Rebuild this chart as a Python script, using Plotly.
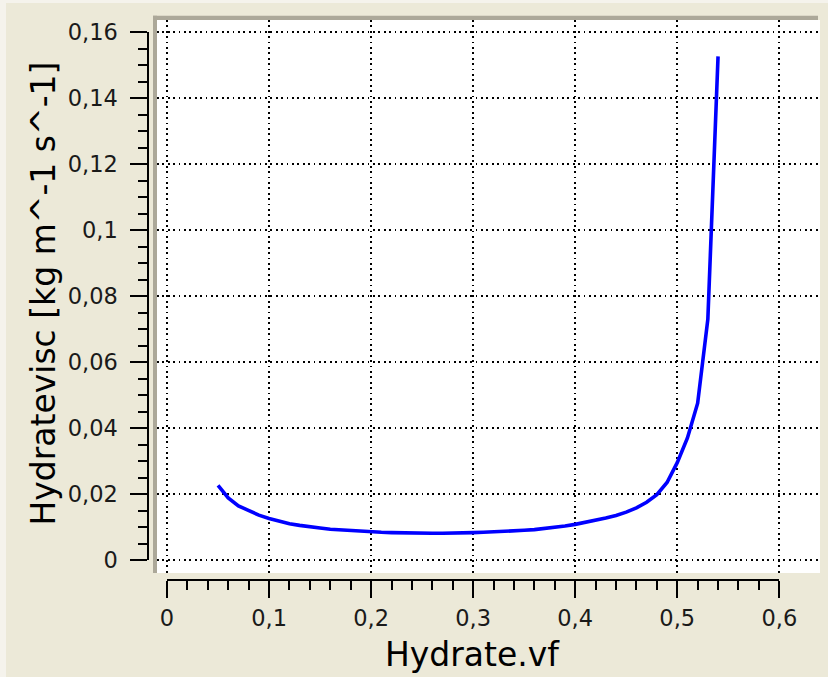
import plotly.graph_objects as go

# Data
hydrate_vf = [0.05, 0.06, 0.07, 0.08, 0.09, 0.10, 0.11, 0.12, 0.13, 0.14,
              0.15, 0.16, 0.17, 0.18, 0.19, 0.20, 0.21, 0.22, 0.23, 0.24,
              0.25, 0.26, 0.27, 0.28, 0.29, 0.30, 0.31, 0.32, 0.33, 0.34,
              0.35, 0.36, 0.37, 0.38, 0.39, 0.40, 0.41, 0.42, 0.43, 0.44,
              0.45, 0.46, 0.47, 0.48, 0.49, 0.50, 0.51, 0.52, 0.53, 0.54]
hydrate_visc = [0.0226, 0.0188, 0.0164, 0.0149, 0.0136, 0.0126, 0.0117, 0.0110, 0.0105, 0.0100,
                0.0097, 0.0093, 0.0091, 0.0088, 0.0086, 0.0085, 0.0084, 0.0083, 0.0082, 0.0081,
                0.0081, 0.0081, 0.0081, 0.0081, 0.0082, 0.0083, 0.0084, 0.0085, 0.0086, 0.0088,
                0.0090, 0.0092, 0.0095, 0.0099, 0.0103, 0.0108, 0.0114, 0.0120, 0.0127, 0.0135,
                0.0145, 0.0158, 0.0175, 0.0198, 0.0235, 0.0295, 0.0370, 0.0475, 0.0730, 0.1526]

x_title = "Hydrate.vf"
y_title = "Hydratevisc [kg m^-1 s^-1]"

W, H = 828, 677
BG = "#ECE9D8"
SHADOW = "#ACA899"


def px(v):
    return v / W


def py(v):
    return 1 - v / H


fig = go.Figure()
fig.add_trace(go.Scatter(x=hydrate_vf, y=hydrate_visc, mode="lines",
                         line=dict(color="#0000ff", width=3.6),
                         xaxis="x", yaxis="y", showlegend=False, hoverinfo="x+y"))
# empty trace to host the tick axes
fig.add_trace(go.Scatter(x=[], y=[], xaxis="x2", yaxis="y2", showlegend=False,
                         hoverinfo="skip"))

tickfont = dict(family="DejaVu Sans", size=22.5, color="#1a1a1a")
grid = dict(showgrid=True, gridcolor="#000000", gridwidth=1.7, griddash="1.7px,3.7px",
            zeroline=False, showticklabels=False, ticks="", showline=False,
            automargin=False)

fig.update_layout(
    width=W, height=H, autosize=False,
    margin=dict(l=0, r=0, t=0, b=0, pad=0, autoexpand=False),
    paper_bgcolor=BG, plot_bgcolor="rgba(0,0,0,0)",
    separators=",.",
    showlegend=False,
    xaxis=dict(domain=[px(157), px(820)], range=[-0.0098, 0.6399], dtick=0.1, tick0=0,
               anchor="y", **grid),
    yaxis=dict(domain=[py(573), py(20)], range=[-0.00394, 0.16364], dtick=0.02, tick0=0,
               anchor="x", **grid),
    xaxis2=dict(domain=[px(167), px(779.3)], range=[0, 0.6], dtick=0.1, tick0=0,
                anchor="free", position=py(580), side="bottom", automargin=False,
                showline=True, linecolor="#000000", linewidth=2,
                ticks="outside", ticklen=17, tickwidth=2, tickcolor="#000000",
                ticklabelstandoff=1,
                minor=dict(dtick=0.02, ticks="outside", ticklen=9, tickwidth=2,
                           tickcolor="#000000", showgrid=False),
                showgrid=False, zeroline=False, tickfont=tickfont),
    yaxis2=dict(domain=[py(560), py(32)], range=[0, 0.16], dtick=0.02, tick0=0,
                anchor="free", position=px(148.3), side="left", automargin=False,
                showline=True, linecolor="#000000", linewidth=2,
                ticks="outside", ticklen=17, tickwidth=2, tickcolor="#000000",
                ticklabelstandoff=8,
                minor=dict(dtick=0.005, ticks="outside", ticklen=9, tickwidth=2,
                           tickcolor="#000000", showgrid=False),
                showgrid=False, zeroline=False, tickfont=tickfont),
    shapes=[
        dict(type="rect", xref="paper", yref="paper", x0=0, x1=1, y0=py(3), y1=1,
             fillcolor="#F5F3EC", line=dict(width=0), layer="below"),
        dict(type="rect", xref="paper", yref="paper", x0=0, x1=px(6), y0=0, y1=1,
             fillcolor="#F5F3EC", line=dict(width=0), layer="below"),
        dict(type="rect", xref="paper", yref="paper", x0=px(157), x1=px(820),
             y0=py(573), y1=py(20), fillcolor="white", line=dict(width=0), layer="below"),
        dict(type="rect", xref="paper", yref="paper", x0=px(153), x1=px(818),
             y0=py(20), y1=py(15.7), fillcolor=SHADOW, line=dict(width=0), layer="below"),
        dict(type="rect", xref="paper", yref="paper", x0=px(153), x1=px(157),
             y0=py(573), y1=py(15.7), fillcolor=SHADOW, line=dict(width=0), layer="below"),
    ],
    annotations=[
        dict(text=x_title, xref="paper", yref="paper", x=px(472.5), y=py(654),
             xanchor="center", yanchor="middle", showarrow=False,
             font=dict(family="DejaVu Sans", size=33, color="#000000")),
        dict(text=y_title, xref="paper", yref="paper", x=px(44), y=py(293.6),
             xanchor="center", yanchor="middle", showarrow=False, textangle=-90,
             font=dict(family="DejaVu Sans", size=33, color="#000000")),
    ],
)

fig.write_html("out.html", config={"displayModeBar": False},
               post_script="document.body.style.margin='0';document.body.style.overflow='hidden';")
